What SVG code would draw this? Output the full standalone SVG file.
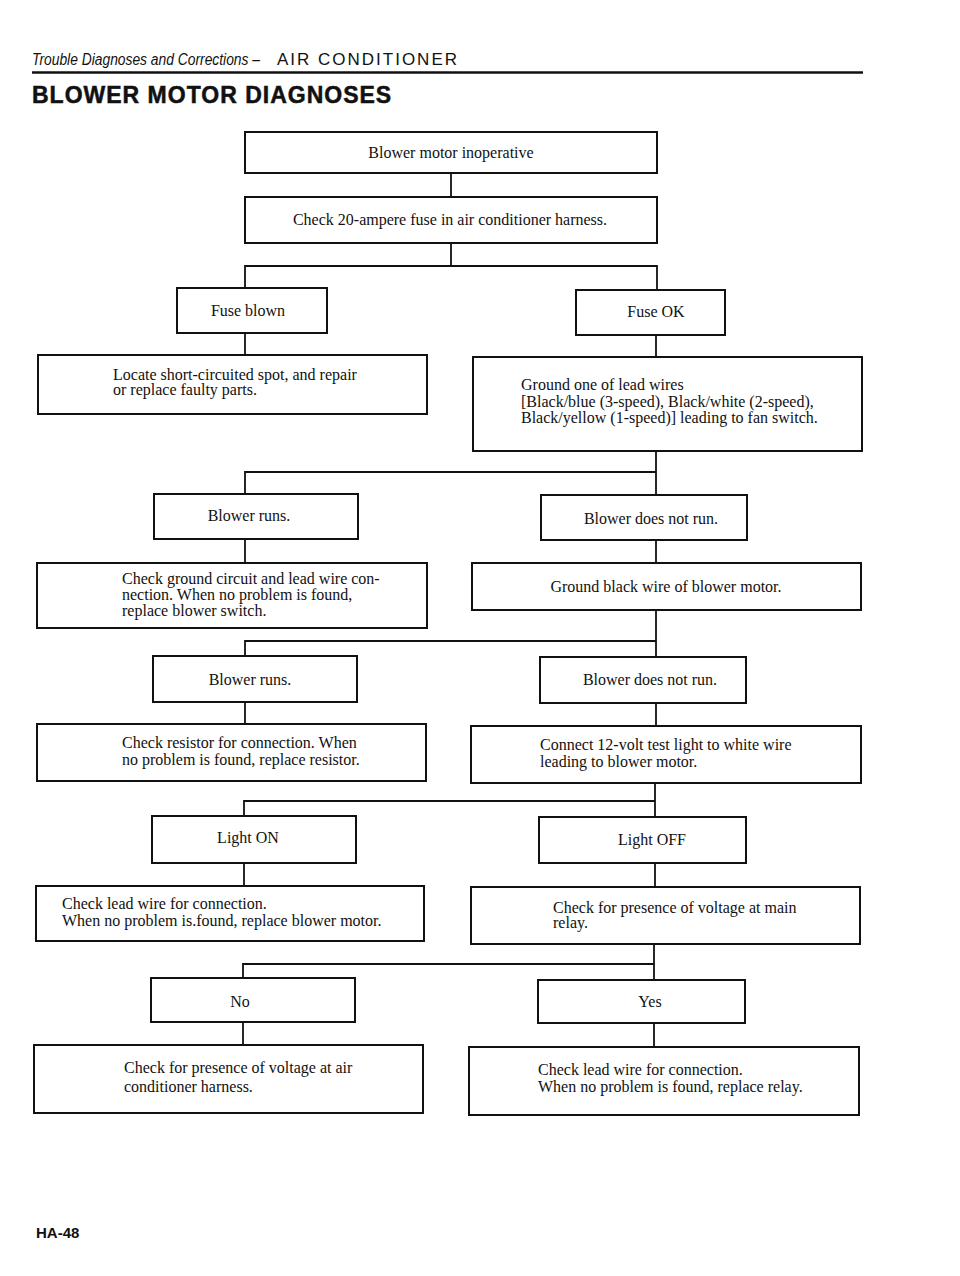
<svg xmlns="http://www.w3.org/2000/svg" width="960" height="1276" viewBox="0 0 960 1276">
<style>
.box{fill:#fff;stroke:#111;stroke-width:2}
.t{font-family:"Liberation Serif","Times New Roman",serif;font-size:16px;fill:#111}
.m{text-anchor:middle}
.conn{fill:none;stroke:#111;stroke-width:1.8}
</style>
<rect width="960" height="1276" fill="#fff"/>
<g id="header">
<text x="32" y="65" font-family="'Liberation Sans',Arial,sans-serif" font-style="italic" font-size="16" textLength="228" lengthAdjust="spacingAndGlyphs" fill="#111">Trouble Diagnoses and Corrections –</text>
<text x="277" y="65" font-family="'Liberation Sans',Arial,sans-serif" font-size="17" textLength="180" lengthAdjust="spacing" fill="#111">AIR CONDITIONER</text>
<line x1="32" y1="72.5" x2="863" y2="72.5" stroke="#111" stroke-width="2.5"/>
<text x="32" y="103" font-family="'Liberation Sans',Arial,sans-serif" font-weight="bold" font-size="23" letter-spacing="1" stroke="#111" stroke-width="0.5" fill="#111">BLOWER MOTOR DIAGNOSES</text>
</g>
<g id="connectors">
<path class="conn" d="M451 173V197"/>
<path class="conn" d="M451 243V266M245 288V266H657V290"/>
<path class="conn" d="M245 333V355"/>
<path class="conn" d="M656 335V357"/>
<path class="conn" d="M656 451V495M245 494V472H656"/>
<path class="conn" d="M245 539V563"/>
<path class="conn" d="M656 540V563"/>
<path class="conn" d="M656 610V657M245 656V641H656"/>
<path class="conn" d="M245 702V724"/>
<path class="conn" d="M656 703V726"/>
<path class="conn" d="M655 783V817M244 816V801H655"/>
<path class="conn" d="M244 863V886"/>
<path class="conn" d="M655 863V887"/>
<path class="conn" d="M654 944V980M243 978V964H654"/>
<path class="conn" d="M243 1022V1045"/>
<path class="conn" d="M654 1023V1047"/>
</g>
<g id="n1"><rect class="box" x="245" y="132" width="412" height="41"/><text class="t m" x="451" y="158">Blower motor inoperative</text></g>
<g id="n2"><rect class="box" x="245" y="197" width="412" height="46"/><text class="t m" x="450" y="225">Check 20-ampere fuse in air conditioner harness.</text></g>
<g id="n3"><rect class="box" x="177" y="288" width="150" height="45"/><text class="t m" x="248" y="316">Fuse blown</text></g>
<g id="n4"><rect class="box" x="38" y="355" width="389" height="59"/><text class="t" x="113" y="380">Locate short-circuited spot, and repair</text><text class="t" x="113" y="395">or replace faulty parts.</text></g>
<g id="n5"><rect class="box" x="576" y="290" width="149" height="45"/><text class="t m" x="656" y="317">Fuse OK</text></g>
<g id="n6"><rect class="box" x="473" y="357" width="389" height="94"/><text class="t" x="521" y="390">Ground one of lead wires</text><text class="t" x="521" y="407">[Black/blue (3-speed), Black/white (2-speed),</text><text class="t" x="521" y="423">Black/yellow (1-speed)] leading to fan switch.</text></g>
<g id="n7"><rect class="box" x="154" y="494" width="204" height="45"/><text class="t m" x="249" y="521">Blower runs.</text></g>
<g id="n8"><rect class="box" x="37" y="563" width="390" height="65"/><text class="t" x="122" y="584">Check ground circuit and lead wire con-</text><text class="t" x="122" y="600">nection. When no problem is found,</text><text class="t" x="122" y="616">replace blower switch.</text></g>
<g id="n9"><rect class="box" x="541" y="495" width="206" height="45"/><text class="t m" x="651" y="524">Blower does not run.</text></g>
<g id="n10"><rect class="box" x="472" y="563" width="389" height="47"/><text class="t m" x="666" y="592">Ground black wire of blower motor.</text></g>
<g id="n11"><rect class="box" x="153" y="656" width="204" height="46"/><text class="t m" x="250" y="685">Blower runs.</text></g>
<g id="n12"><rect class="box" x="37" y="724" width="389" height="57"/><text class="t" x="122" y="748">Check resistor for connection. When</text><text class="t" x="122" y="765">no problem is found, replace resistor.</text></g>
<g id="n13"><rect class="box" x="540" y="657" width="206" height="46"/><text class="t m" x="650" y="685">Blower does not run.</text></g>
<g id="n14"><rect class="box" x="471" y="726" width="390" height="57"/><text class="t" x="540" y="750">Connect 12-volt test light to white wire</text><text class="t" x="540" y="767">leading to blower motor.</text></g>
<g id="n15"><rect class="box" x="152" y="816" width="204" height="47"/><text class="t m" x="248" y="843">Light ON</text></g>
<g id="n16"><rect class="box" x="36" y="886" width="388" height="55"/><text class="t" x="62" y="909">Check lead wire for connection.</text><text class="t" x="62" y="926">When no problem is.found, replace  blower motor.</text></g>
<g id="n17"><rect class="box" x="539" y="817" width="207" height="46"/><text class="t m" x="652" y="845">Light OFF</text></g>
<g id="n18"><rect class="box" x="471" y="887" width="389" height="57"/><text class="t" x="553" y="913">Check for presence of voltage at main</text><text class="t" x="553" y="928">relay.</text></g>
<g id="n19"><rect class="box" x="151" y="978" width="204" height="44"/><text class="t m" x="240" y="1007">No</text></g>
<g id="n20"><rect class="box" x="34" y="1045" width="389" height="68"/><text class="t" x="124" y="1073">Check for presence of voltage at air</text><text class="t" x="124" y="1092">conditioner harness.</text></g>
<g id="n21"><rect class="box" x="538" y="980" width="207" height="43"/><text class="t m" x="650" y="1007">Yes</text></g>
<g id="n22"><rect class="box" x="469" y="1047" width="390" height="68"/><text class="t" x="538" y="1075">Check lead wire for connection.</text><text class="t" x="538" y="1092">When no problem is found, replace relay.</text></g>
<g id="footer"><text x="36" y="1238" font-family="'Liberation Sans',Arial,sans-serif" font-weight="bold" font-size="15" fill="#111">HA-48</text></g>
</svg>
